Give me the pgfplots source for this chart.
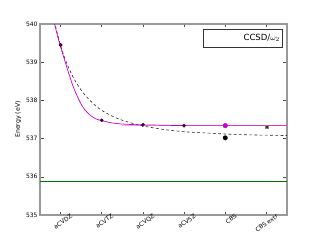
\documentclass[border=0pt]{standalone}
\usepackage{fontspec}
\setmainfont{DejaVu Sans}
\usepackage{pgfplots}
\pgfplotsset{compat=1.18}
\definecolor{mag}{RGB}{200,0,200}
\definecolor{dgreen}{RGB}{0,115,0}
\definecolor{ptcol}{RGB}{60,0,60}
\begin{document}
\begin{tikzpicture}
\begin{axis}[
  name=ax,
  scale only axis,
  width=247pt, height=191pt,
  xmin=-0.5, xmax=5.5, ymin=535, ymax=540,
  xtick={0,1,2,3,4,5},
  xticklabels={aCVDZ,aCVTZ,aCVQZ,aCV5Z,CBS,CBS extr},
  ytick={535,536,537,538,539,540},
  y tick label style={font=\fontsize{6}{7}\selectfont, xshift=1pt},
  x tick label style={font=\fontsize{6}{7}\selectfont, rotate=35, anchor=north east, xshift=12pt, yshift=-1pt},
  /pgf/number format/assume math mode=true,
  tick align=inside,
  major tick length=3.5pt,
  tick style={black!70, line width=0.5pt},
  axis line style={black!40, line width=1.2pt},
  ylabel={Energy (eV)},
  ylabel style={font=\fontsize{6.2}{7}\selectfont, yshift=-2pt},
  clip=true,
]
% pale horizontal line
\addplot[magenta!35, line width=1.6pt] coordinates {(1.5,537.34) (5.5,537.34)};
% dashed fit
\addplot[black!85, dash pattern=on 2.8pt off 2.4pt, line width=0.6pt, smooth] coordinates {
(-0.15,540.08) (-0.1,539.84) (0,539.44) (0.1,539.11) (0.2,538.84) (0.3,538.62)
(0.4,538.43) (0.5,538.27) (0.6,538.13) (0.8,537.91) (1.0,537.74) (1.25,537.59)
(1.5,537.48) (1.75,537.40) (2.0,537.33) (2.5,537.24) (3.0,537.18) (3.5,537.15)
(4.0,537.12) (4.5,537.10) (5.0,537.09) (5.5,537.08)};
% magenta fit
\addplot[mag, line width=0.7pt, smooth] coordinates {
(-0.15,540.02) (-0.1,539.80) (-0.05,539.59) (0,539.40) (0.1,539.05) (0.2,538.70)
(0.3,538.38) (0.4,538.12) (0.5,537.90) (0.6,537.74) (0.7,537.63) (0.8,537.55)
(0.9,537.50) (1.0,537.47) (1.2,537.42) (1.4,537.39) (1.7,537.37) (2.0,537.36)
(2.5,537.35) (3.0,537.34) (4.0,537.34) (5.5,537.34)};
% green line
\addplot[dgreen, line width=0.8pt] coordinates {(-0.5,535.87) (5.5,535.87)};
% data points
\addplot[only marks, mark=*, mark size=1.7pt, draw=ptcol, fill=ptcol] coordinates {
(0,539.45) (1,537.48) (2,537.36) (3,537.34)};
\addplot[only marks, mark=*, mark size=2.2pt, draw=black, fill=black] coordinates {(4,537.02)};
\addplot[only marks, mark=*, mark size=2.3pt, draw=mag, fill=mag] coordinates {(4,537.34)};
\addplot[only marks, mark=square*, mark size=1.6pt, draw=gray, fill=red!65!black, line width=0.5pt] coordinates {(5,537.32)};
\node[draw=black!80, line width=0.5pt, anchor=north east, minimum width=79pt, minimum height=18pt, inner sep=2pt, align=right, text width=73pt, font=\fontsize{8.5}{10}\selectfont]
  at ([xshift=-4pt,yshift=-5pt]rel axis cs:1,1) {CCSD/$\omega_2$};
\end{axis}
\useasboundingbox ([shift={(-40pt,-25pt)}]ax.south west) rectangle ([shift={(33pt,24pt)}]ax.north east);
\end{tikzpicture}
\end{document}
